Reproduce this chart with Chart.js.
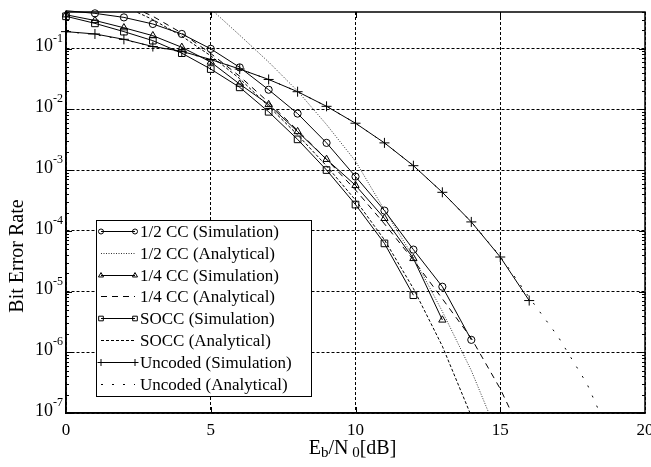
<!DOCTYPE html>
<html>
<head>
<meta charset="utf-8">
<script src="https://cdn.jsdelivr.net/npm/chart.js@4.4.1/dist/chart.umd.min.js"></script>
<style>
  html, body { margin: 0; padding: 0; background: #fff; }
  #berChart { display: block; }
</style>
</head>
<body>
<canvas id="berChart" width="651" height="467"></canvas>
<script>
// Eb/N0 (dB) sample points per curve
const snrCC12Sim = [0, 1, 2, 3, 4, 5, 6, 7, 8, 9, 10, 11, 12, 13, 14];
const snrCC12Ana = [5, 6, 7, 8, 9, 10, 11, 12, 13, 14, 15];
const snrCC14Sim = [0, 1, 2, 3, 4, 5, 6, 7, 8, 9, 10, 11, 12, 13];
const snrCC14Ana = [2, 3, 4, 5, 6, 7, 8, 9, 10, 11, 12, 13, 14, 15, 16];
const snrSoccSim = [0, 1, 2, 3, 4, 5, 6, 7, 8, 9, 10, 11, 12];
const snrSoccAna = [2, 3, 4, 5, 6, 7, 8, 9, 10, 11, 12, 13, 14];
const snrUncSim = [0, 1, 2, 3, 4, 5, 6, 7, 8, 9, 10, 11, 12, 13, 14, 15, 16];
const snrUncAna = [0, 1, 2, 3, 4, 5, 6, 7, 8, 9, 10, 11, 12, 13, 14, 15, 16, 17, 18, 19];

// Bit error rates
const berCC12Sim = [0.42, 0.38, 0.326, 0.254, 0.174, 0.099, 0.049, 0.021, 0.0085, 0.0028, 7.8e-4, 2.15e-4, 4.9e-5, 1.2e-5, 1.6e-6];
const berCC12Ana = [0.45, 0.166, 0.060, 0.020, 5.6e-3, 1.4e-3, 2.2e-4, 3.7e-5, 4.7e-6, 5e-7, 3.5e-8];
const berCC14Sim = [0.36, 0.29, 0.22, 0.163, 0.105, 0.060, 0.026, 0.012, 0.0043, 0.0015, 5.6e-4, 1.6e-4, 3.5e-5, 3.4e-6];
const berCC14Ana = [0.56, 0.34, 0.18, 0.083, 0.035, 0.013, 4.5e-3, 1.5e-3, 4.7e-4, 1.3e-4, 3.3e-5, 7.6e-6, 1.7e-6, 2.5e-7, 2.5e-8];
const berSoccSim = [0.34, 0.26, 0.19, 0.135, 0.084, 0.046, 0.023, 0.0091, 0.0032, 0.0010, 2.7e-4, 6.2e-5, 8.7e-6];
const berSoccAna = [0.50, 0.30, 0.16, 0.076, 0.032, 0.0112, 3.8e-3, 1.17e-3, 3.2e-4, 7.1e-5, 1.12e-5, 1.26e-6, 8.9e-8];
const berUncSim = [0.19, 0.174, 0.142, 0.108, 0.090, 0.066, 0.046, 0.031, 0.0195, 0.0112, 0.0059, 0.0028, 0.00118, 4.3e-4, 1.4e-4, 3.7e-5, 7.1e-6];
const berUncAna = [0.19, 0.17, 0.14, 0.108, 0.088, 0.066, 0.046, 0.031, 0.0195, 0.0112, 0.0059, 0.0028, 0.00118, 4.3e-4, 1.4e-4, 3.8e-5, 8e-6, 1.8e-6, 3.0e-7, 2.5e-8];

// Axis ticks
const xTicks = [0, 5, 10, 15, 20];
const yExponents = [-7, -6, -5, -4, -3, -2, -1];
const yMin = 1e-7;
const yMax = 0.4;

const FONT = '"Liberation Serif", "Times New Roman", serif';

const curves = [
  { label: '1/2 CC (Simulation)', x: snrCC12Sim, y: berCC12Sim, marker: 'circle', size: 3.6, dash: [] },
  { label: '1/2 CC (Analytical)', x: snrCC12Ana, y: berCC12Ana, marker: null, dash: [1, 1.5], color: '#333' },
  { label: '1/4 CC (Simulation)', x: snrCC14Sim, y: berCC14Sim, marker: 'triangle', size: 4.2, dash: [] },
  { label: '1/4 CC (Analytical)', x: snrCC14Ana, y: berCC14Ana, marker: null, dash: [6, 5] },
  { label: 'SOCC (Simulation)', x: snrSoccSim, y: berSoccSim, marker: 'rect', size: 4.7, dash: [] },
  { label: 'SOCC (Analytical)', x: snrSoccAna, y: berSoccAna, marker: null, dash: [3, 2] },
  { label: 'Uncoded (Simulation)', x: snrUncSim, y: berUncSim, marker: 'cross', size: 5, dash: [] },
  { label: 'Uncoded (Analytical)', x: snrUncAna, y: berUncAna, marker: null, dash: [2, 9] }
];

const datasets = curves.map(c => ({
  label: c.label,
  data: c.x.map((v, i) => ({ x: v, y: c.y[i] })),
  borderColor: c.color || '#000',
  borderWidth: 1,
  borderDash: c.dash,
  tension: 0,
  fill: false,
  pointStyle: c.marker || 'circle',
  // markers that fall above the axis limit are not shown
  pointRadius: c.marker ? (ctx => (ctx.raw && ctx.raw.y > yMax) ? 0 : c.size) : 0,
  pointHoverRadius: 0,
  pointBorderColor: '#000',
  pointBorderWidth: 1,
  pointBackgroundColor: 'rgba(0,0,0,0)',
  clip: c.marker ? 6 : 0
}));

// small marker glyphs for the legend
function drawMarker(ctx, style, x, y, r) {
  ctx.beginPath();
  if (style === 'circle') {
    ctx.arc(x, y, r, 0, Math.PI * 2);
  } else if (style === 'triangle') {
    ctx.moveTo(x, y - r);
    ctx.lineTo(x + r * 0.866, y + r * 0.5);
    ctx.lineTo(x - r * 0.866, y + r * 0.5);
    ctx.closePath();
  } else if (style === 'rect') {
    const s = r * Math.SQRT1_2;
    ctx.rect(x - s, y - s, 2 * s, 2 * s);
  } else if (style === 'cross') {
    ctx.moveTo(x - r, y); ctx.lineTo(x + r, y);
    ctx.moveTo(x, y - r); ctx.lineTo(x, y + r);
  }
  ctx.stroke();
}

const axisDecor = {
  id: 'axisDecor',
  afterDraw(chart) {
    const { ctx, chartArea: a, scales: { x, y } } = chart;
    ctx.save();
    ctx.setLineDash([]);
    ctx.strokeStyle = '#000';

    // inward tick marks, MATLAB style
    ctx.lineWidth = 1;
    ctx.beginPath();
    xTicks.slice(1, -1).forEach(v => {
      const px = Math.round(x.getPixelForValue(v)) + 0.5;
      ctx.moveTo(px, a.bottom); ctx.lineTo(px, a.bottom - 6);
      ctx.moveTo(px, a.top); ctx.lineTo(px, a.top + 6);
    });
    yExponents.forEach(k => {
      for (let m = 1; m <= 9; m++) {
        const v = m * Math.pow(10, k);
        if (v > yMax) break;
        const py = Math.round(y.getPixelForValue(v)) + 0.5;
        const len = m === 1 ? 6 : 3;
        ctx.moveTo(a.left, py); ctx.lineTo(a.left + len, py);
        ctx.moveTo(a.right, py); ctx.lineTo(a.right - len, py);
      }
    });
    ctx.stroke();

    // axes frame
    ctx.lineWidth = 1.5;
    ctx.strokeRect(a.left, a.top, a.right - a.left, a.bottom - a.top);

    // x tick labels
    ctx.fillStyle = '#000';
    ctx.font = '17px ' + FONT;
    ctx.textAlign = 'center';
    ctx.textBaseline = 'middle';
    xTicks.forEach(v => ctx.fillText(String(v), x.getPixelForValue(v), a.bottom + 18));

    // y tick labels 10^k
    yExponents.forEach(k => {
      const py = y.getPixelForValue(Math.pow(10, k));
      ctx.font = '18px ' + FONT;
      ctx.textAlign = 'right';
      ctx.fillText('10', a.left - 13, py - 2);
      ctx.font = '12px ' + FONT;
      ctx.textAlign = 'left';
      ctx.fillText(String(k), a.left - 13, py - 10);
    });

    // y axis title
    ctx.save();
    ctx.translate(18, 256);
    ctx.rotate(-Math.PI / 2);
    ctx.font = '20px ' + FONT;
    ctx.textAlign = 'center';
    ctx.fillText('Bit Error Rate', 0, 0);
    ctx.restore();

    // x axis title: Eb/N0[dB] with subscripts
    const parts = [
      { t: 'E', size: 20, dy: 0 },
      { t: 'b', size: 15, dy: 3 },
      { t: '/N', size: 20, dy: 0 },
      { t: ' 0', size: 15, dy: 3 },
      { t: '[dB]', size: 20, dy: 0 }
    ];
    ctx.textAlign = 'left';
    ctx.textBaseline = 'alphabetic';
    let total = 0;
    parts.forEach(p => { ctx.font = p.size + 'px ' + FONT; p.w = ctx.measureText(p.t).width; total += p.w; });
    let tx = (a.left + a.right) / 2 - 3 - total / 2;
    parts.forEach(p => {
      ctx.font = p.size + 'px ' + FONT;
      ctx.fillText(p.t, tx, 454 + p.dy);
      tx += p.w;
    });

    // legend box
    const lx = a.left + 30, ly = a.top + 208, lw = 215, lh = 176;
    ctx.fillStyle = '#fff';
    ctx.fillRect(lx, ly, lw, lh);
    ctx.lineWidth = 1;
    ctx.strokeRect(lx + 0.5, ly + 0.5, lw, lh);
    ctx.font = '17px ' + FONT;
    ctx.textBaseline = 'middle';
    curves.forEach((c, i) => {
      const ry = Math.round(ly + 11 + i * 21.8) + 0.5;
      const x1 = lx + 5, x2 = lx + 39;
      ctx.strokeStyle = c.color || '#000';
      ctx.setLineDash(c.dash);
      ctx.beginPath();
      ctx.moveTo(x1, ry); ctx.lineTo(x2, ry);
      ctx.stroke();
      ctx.setLineDash([]);
      ctx.strokeStyle = '#000';
      if (c.marker) {
        drawMarker(ctx, c.marker, x1, ry, c.size * 0.7);
        drawMarker(ctx, c.marker, x2, ry, c.size * 0.7);
      }
      ctx.fillStyle = '#000';
      ctx.fillText(c.label, lx + 44, ry + 1);
    });

    ctx.restore();
  }
};

const chart = new Chart(document.getElementById('berChart').getContext('2d'), {
  type: 'line',
  data: { datasets },
  options: {
    responsive: false,
    devicePixelRatio: 1,
    animation: false,
    layout: { padding: { left: 66, top: 12, right: 4, bottom: 54 } },
    plugins: {
      legend: { display: false },
      tooltip: { enabled: false }
    },
    scales: {
      x: {
        type: 'linear',
        min: 0,
        max: 20,
        ticks: { display: false, stepSize: 5 },
        grid: { color: '#000', lineWidth: 1, drawTicks: false },
        border: { display: true, color: '#000', width: 1.5, dash: [3, 2] }
      },
      y: {
        type: 'logarithmic',
        min: yMin,
        max: yMax,
        afterBuildTicks: scale => {
          scale.ticks = yExponents.map(k => ({ value: Math.pow(10, k) }));
        },
        ticks: { display: false },
        grid: { color: '#000', lineWidth: 1, drawTicks: false },
        border: { display: true, color: '#000', width: 1.5, dash: [3, 2] }
      }
    }
  },
  plugins: [axisDecor]
});
</script>
</body>
</html>
